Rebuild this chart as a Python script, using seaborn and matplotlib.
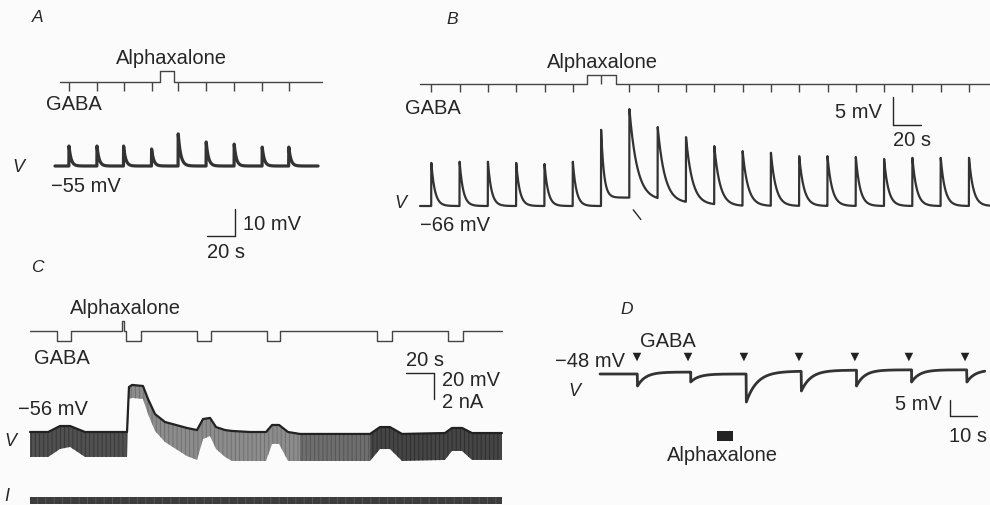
import numpy as np
import pandas as pd
import matplotlib
matplotlib.use("Agg")
import matplotlib.pyplot as plt
import seaborn as sns

sns.set_theme(style="white")
plt.rcParams["font.family"] = ["Liberation Sans", "DejaVu Sans"]
plt.rcParams["hatch.linewidth"] = 0.7

# ---------------- data ----------------
# Panel A
a_gaba_t = [10, 30, 49, 69, 88, 108, 128, 148, 167]          # s
a_peak_mv = [-47.6, -47.6, -47.6, -48.7, -43.1, -46.1, -46.9, -48.0, -48.0]
a_floor_mv = [-55, -55, -55, -55, -55, -55, -55, -55, -55]
a_tau_s = [1.5, 1.5, 1.5, 1.5, 1.8, 1.6, 1.5, 1.5, 1.5]
a_rest_mv = -55
a_alpha_s = (75, 85)
a_trace_end = 188
a_stim_span = (3.6, 190.7)

# Panel B
b_gaba_t = [8, 28, 48, 68, 88, 108, 128, 148, 168, 188, 208, 228, 248, 268,
            288, 308, 328, 348, 368, 388]
b_peak_mv = [-58.3, -58.1, -58.1, -58.3, -58.5, -58.1, -52.4, -48.7, -51.9,
             -53.7, -55.3, -56.2, -56.5, -57.1, -57.1, -57.25, -57.6, -57.4,
             -57.4, -57.4]
b_floor_mv = [-66, -66, -66, -66, -66, -66, -64.5, -65.0, -65.5, -65.8, -66,
              -66, -66, -66, -66, -66, -66, -66, -66, -66]
b_tau_s = [2.5, 2.5, 2.5, 2.5, 2.5, 2.5, 2.0, 5.5, 5.0, 4.5, 4.0, 3.8, 3.5,
           3.3, 3.2, 3.0, 3.0, 3.0, 3.0, 3.0]
b_rest_mv = -66
b_alpha_s = (118, 138.5)
b_trace_end = 402.8

# Panel C
c_t = [0, 13, 21.4, 28.6, 39.3, 69.3, 70.7, 72.9, 80.7, 84.3, 89.3, 96.4,
       112.1, 119.3, 123.6, 128.6, 132.9, 139.3, 144.3, 157.1, 168.6, 172.9,
       177.9, 184.3, 192.9, 242.9, 250, 257.1, 265.7, 296.4, 301.4, 308.6,
       315.7, 337.1]
c_top_mv = [-56.0, -56.0, -51.4, -51.4, -56.0, -56.0, -21.4, -19.8, -20.6,
            -30.6, -42.2, -48.3, -52.9, -54.5, -46.0, -45.2, -52.2, -54.5,
            -55.2, -56.0, -56.0, -50.6, -50.6, -56.0, -57.5, -57.5, -52.2,
            -52.2, -57.5, -56.8, -52.9, -52.9, -56.8, -56.8]
c_bottom_mv = [-75.2, -75.2, -69.1, -67.5, -75.2, -75.2, -30.6, -29.8, -30.6,
               -42.2, -55.2, -63.7, -74.5, -77.5, -61.4, -59.1, -69.1, -75.2,
               -78.3, -78.3, -78.3, -65.2, -65.2, -78.3, -78.3, -78.3, -69.1,
               -69.1, -78.3, -77.5, -70.6, -70.6, -77.5, -77.5]
c_gaba_on = [19.3, 68.6, 119.3, 169.3, 247.9, 298.6]
c_gaba_off = [29.3, 79.3, 129.3, 178.6, 258.6, 309.3]
c_alpha_s = (65.7, 67.1)
c_end = 337.1
c_i_hold_na = 0.0
c_i_pulse_na = -0.5

# Panel D
d_gaba_t = [13.7, 32.6, 53.3, 73.7, 94.4, 114.4, 135.2]
d_resp_t = [13.9, 33.6, 54.2, 74.6, 95.0, 115.4, 135.9]
d_peak_mv = [-51.75, -50.5, -56.75, -53.3, -51.75, -50.5, -50.5]
d_floor_mv = [-47.4, -48.0, -47.1, -46.8, -46.7, -46.7, -46.7]
d_tau_s = [3.0, 3.0, 4.0, 3.5, 3.0, 3.0, 3.0]
d_start_mv = -48
d_alpha_s = (43.3, 49.3)
d_end = 142.6

# ---------------- helpers ----------------
W, H = 990, 506
BG = "#fbfbfb"
INK = "#262626"
TRACE = "#333333"

fig = plt.figure(figsize=(W / 100, H / 100), dpi=100, facecolor=BG)


def panel_ax(rect, x0px, pxx, y0px, y0val, pxy):
    L, T, R, B = rect
    ax = fig.add_axes([L / W, 1 - B / H, (R - L) / W, (B - T) / H])
    ax.set_xlim((L - x0px) / pxx, (R - x0px) / pxx)
    ax.set_ylim(y0val - (B - y0px) / pxy, y0val + (y0px - T) / pxy)
    ax.set_axis_off()
    ax.patch.set_alpha(0)
    return ax


def decay_trace(t_end, ev_t, ev_peak, ev_floor, ev_tau, v_start, dt=0.1):
    tp = [np.arange(0, ev_t[0], dt)]
    vp = [np.full(len(tp[0]), v_start, dtype=float)]
    bounds = list(ev_t[1:]) + [t_end]
    for t0, t1, pk, fl, tau in zip(ev_t, bounds, ev_peak, ev_floor, ev_tau):
        tt = np.arange(t0, t1, dt)
        tp.append(tt)
        vp.append(fl + (pk - fl) * np.exp(-(tt - t0) / tau))
    return pd.DataFrame({"t": np.concatenate(tp), "v": np.concatenate(vp)})


def step_line(span, pulses):
    xs, ys = [span[0]], [0.0]
    for on, off, lev in sorted(pulses):
        xs += [on, on, off, off]
        ys += [0.0, lev, lev, 0.0]
    xs.append(span[1])
    ys.append(0.0)
    return pd.DataFrame({"t": xs, "v": ys})


def line(ax, df, lw, color=TRACE):
    sns.lineplot(data=df, x="t", y="v", ax=ax, color=color, lw=lw,
                 estimator=None, sort=False, legend=False)
    ax.set_xlabel("")
    ax.set_ylabel("")


def txt(x, y, s, ha="center", size=14.5, style="normal"):
    fig.text(x / W, 1 - y / H, s, ha=ha, va="center", fontsize=size,
             color=INK, style=style)


# ---------------- Panel A ----------------
axA = panel_ax((40, 120, 330, 260), 55, 1.4, 167, a_rest_mv, 2.7)
dfA = decay_trace(a_trace_end, a_gaba_t, a_peak_mv, a_floor_mv, a_tau_s, a_rest_mv)
line(axA, dfA, 2.3)
axA.plot([108.6, 128.6], [-80.9, -80.9], color=INK, lw=1)
axA.plot([128.6, 128.6], [-80.9, -70.9], color=INK, lw=1)

axAs = panel_ax((40, 60, 330, 100), 55, 1.4, 83, 0, 11)
line(axAs, step_line(a_stim_span, [(a_alpha_s[0], a_alpha_s[1], 1.0)]), 1.0, "#444444")
axAs.vlines([t for t in a_gaba_t if not (a_alpha_s[0] < t < a_alpha_s[1])],
            -0.85, 0, color="#444444", lw=1)

txt(38, 18, "A", size=12.5, style="italic")
txt(171, 58, "Alphaxalone")
txt(74, 104, "GABA")
txt(18, 167, "V", size=13, style="italic")
txt(86, 186, "\u221255 mV")
txt(243, 224, "10 mV", ha="left")
txt(226, 252, "20 s")

# ---------------- Panel B ----------------
axB = panel_ax((400, 95, 990, 240), 420, 1.415, 207, b_rest_mv, 5.6)
dfB = decay_trace(b_trace_end, b_gaba_t, b_peak_mv, b_floor_mv, b_tau_s, b_rest_mv)
line(axB, dfB, 1.6)
axB.plot([334.3, 354.3], [-51.5, -51.5], color=INK, lw=1)
axB.plot([334.3, 334.3], [-51.5, -46.5], color=INK, lw=1)
axB.annotate("", xy=(b_gaba_t[7] + 1.5, b_rest_mv - 0.3),
             xytext=(b_gaba_t[7] + 9.3, b_rest_mv - 2.8),
             arrowprops=dict(arrowstyle="-", color=INK, lw=1))

axBs = panel_ax((400, 65, 990, 100), 420, 1.415, 85, 0, 9)
line(axBs, step_line((0, b_trace_end + 5), [(b_alpha_s[0], b_alpha_s[1], 1.0)]), 1.0, "#444444")
b_out = [t for t in b_gaba_t if not (b_alpha_s[0] < t < b_alpha_s[1])]
b_in = [t for t in b_gaba_t if b_alpha_s[0] < t < b_alpha_s[1]]
axBs.vlines(b_out, -0.9, 0, color="#444444", lw=1)
axBs.vlines(b_in, 0, 1, color="#444444", lw=1)

txt(452, 19, "B", size=12.5, style="italic")
txt(602, 62, "Alphaxalone")
txt(433, 108, "GABA")
txt(400, 203, "V", size=13, style="italic")
txt(455, 226, "\u221266 mV")
txt(882, 113, "5 mV", ha="right")
txt(912, 141, "20 s")

# ---------------- Panel C ----------------
axC = panel_ax((20, 365, 520, 475), 30, 1.4, 433, -56, 1.3)
ct = np.asarray(c_t)
zones = [(ct <= 69.3, "#505050", "#383838"),
         ((ct >= 69.3) & (ct <= 192.9), "#8c8c8c", "#707070"),
         ((ct >= 192.9) & (ct <= 242.9), "#6e6e6e", "#555555"),
         (ct >= 242.9, "#454545", "#2e2e2e")]
for mask, face, edge in zones:
    axC.fill_between(c_t, c_bottom_mv, c_top_mv, where=mask, facecolor=face,
                     edgecolor=edge, hatch="||||", lw=0)
line(axC, pd.DataFrame({"t": c_t, "v": c_top_mv}), 1.6, "#222222")
axC.plot([268.6, 288.6], [-10.6, -10.6], color=INK, lw=1)
axC.plot([288.6, 288.6], [-10.6, -30.6], color=INK, lw=1)

axCs = panel_ax((20, 315, 520, 350), 30, 1.4, 332, 0, 10)
c_pulses = [(on, off, -1.0) for on, off in zip(c_gaba_on, c_gaba_off)]
c_pulses.append((c_alpha_s[0], c_alpha_s[1], 1.0))
line(axCs, step_line((0, c_end), c_pulses), 1.0, "#444444")

axCi = panel_ax((20, 485, 520, 506), 30, 1.4, 498, c_i_hold_na, 13)
axCi.fill_between([0, c_end], [c_i_pulse_na, c_i_pulse_na],
                  [c_i_hold_na, c_i_hold_na], facecolor="#3c3c3c",
                  edgecolor="#555555", hatch="||", lw=0)

txt(37, 268, "C", size=12.5, style="italic")
txt(125, 308, "Alphaxalone")
txt(62, 359, "GABA")
txt(425, 360, "20 s")
txt(442, 381, "20 mV", ha="left")
txt(442, 403, "2 nA", ha="left")
txt(53, 410, "\u221256 mV")
txt(10, 442, "V", size=13, style="italic")
txt(7, 497, "I", size=13, style="italic")

# ---------------- Panel D ----------------
axD = panel_ax((590, 345, 990, 450), 600, 2.7, 375, d_start_mv, 3.2)
dfD = decay_trace(d_end, d_resp_t, d_peak_mv, d_floor_mv, d_tau_s, d_start_mv)
line(axD, dfD, 2.0)
sns.scatterplot(x=d_gaba_t, y=np.full(len(d_gaba_t), -42.7), ax=axD,
                marker="v", s=38, color="#222222", edgecolor="none", legend=False)
axD.fill_between(list(d_alpha_s), -68.9, -65.8, color="#222222", lw=0)
axD.plot([129.6, 139.6], [-61.1, -61.1], color=INK, lw=1)
axD.plot([129.6, 129.6], [-61.1, -56.1], color=INK, lw=1)
axD.set_xlabel("")
axD.set_ylabel("")

txt(627, 310, "D", size=12.5, style="italic")
txt(668, 342, "GABA")
txt(590, 362, "\u221248 mV")
txt(574, 392, "V", size=13, style="italic")
txt(942, 405, "5 mV", ha="right")
txt(968, 437, "10 s")
txt(722, 456, "Alphaxalone")

fig.savefig("out.png", dpi=100, facecolor=BG)
